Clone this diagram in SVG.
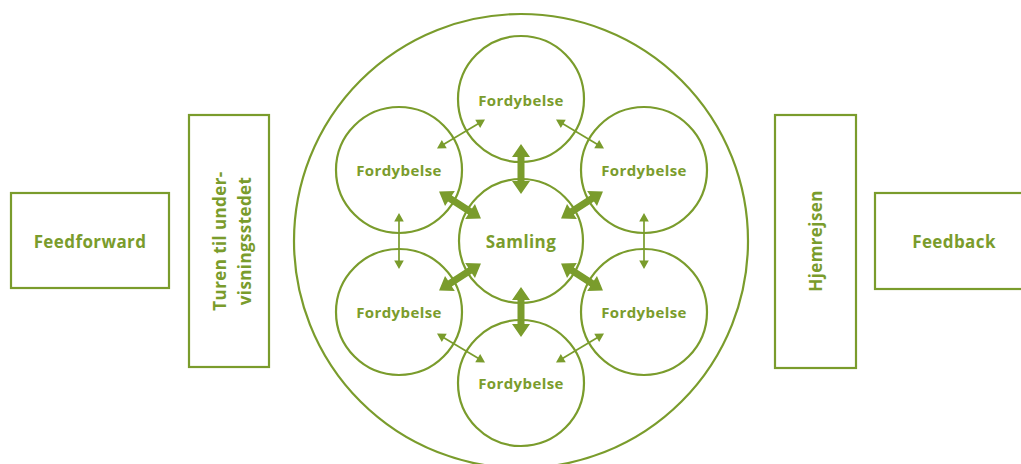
<svg xmlns="http://www.w3.org/2000/svg" width="1021" height="464" viewBox="0 0 1021 464">
<style>
.ln{fill:none;stroke:#7a9c2c;stroke-width:2.2}
.t{fill:#7a9c2c;font-family:"Open Sans",sans-serif;font-weight:700;text-anchor:middle;dominant-baseline:central;letter-spacing:0.4px}
.f{font-size:15px}
.b{font-size:17px}
.ar{fill:#7a9c2c}
.thin{stroke:#7a9c2c;stroke-width:1.7;fill:none}
</style>
<defs>
<path id="thick" d="M-25,0 L-12,-9 L-12,-3.5 L12,-3.5 L12,-9 L25,0 L12,9 L12,3.5 L-12,3.5 L-12,9 Z"/>
<g id="thin">
<line x1="-21" y1="0" x2="21" y2="0" class="thin"/>
<path d="M-28,0 L-19.5,-4.8 L-19.5,4.8 Z M28,0 L19.5,-4.8 L19.5,4.8 Z" class="ar"/>
</g>
</defs>
<rect width="1021" height="464" fill="#fff"/>
<g id="feedforward"><rect x="11" y="193" width="158" height="95" class="ln"/><text x="90" y="241" class="t b">Feedforward</text></g>
<g id="turen"><rect x="189" y="115" width="80" height="252" class="ln"/><text class="t b" transform="translate(231,241) rotate(-90)"><tspan x="0" y="-12.5">Turen til under-</tspan><tspan x="0" y="12.5">visningsstedet</tspan></text></g>
<g id="hjemrejsen"><rect x="775" y="115" width="81" height="253" class="ln"/><text class="t b" transform="translate(815,241) rotate(-90)">Hjemrejsen</text></g>
<g id="feedback"><rect x="875" y="193" width="150" height="96" class="ln"/><text x="954" y="241" class="t b">Feedback</text></g>
<g id="outer"><circle cx="521" cy="241" r="227" class="ln"/></g>
<g id="samling"><circle cx="521" cy="241" r="62" class="ln"/><text x="521" y="241" class="t b">Samling</text></g>
<g id="f-top"><circle cx="521" cy="99" r="63" class="ln"/><text x="521" y="100" class="t f">Fordybelse</text></g>
<g id="f-ul"><circle cx="399" cy="170" r="63" class="ln"/><text x="399" y="170" class="t f">Fordybelse</text></g>
<g id="f-ll"><circle cx="399" cy="312" r="63" class="ln"/><text x="399" y="312" class="t f">Fordybelse</text></g>
<g id="f-bot"><circle cx="521" cy="383" r="63" class="ln"/><text x="521" y="383" class="t f">Fordybelse</text></g>
<g id="f-ur"><circle cx="644" cy="170" r="63" class="ln"/><text x="644" y="170" class="t f">Fordybelse</text></g>
<g id="f-lr"><circle cx="644" cy="312" r="63" class="ln"/><text x="644" y="312" class="t f">Fordybelse</text></g>
<g id="connectors">
<use href="#thick" class="ar" transform="translate(521,169) rotate(90)"/>
<use href="#thick" class="ar" transform="translate(521,312) rotate(90)"/>
<use href="#thick" class="ar" transform="translate(460,205) rotate(33)"/>
<use href="#thick" class="ar" transform="translate(582,205) rotate(-33)"/>
<use href="#thick" class="ar" transform="translate(460,277) rotate(-33)"/>
<use href="#thick" class="ar" transform="translate(582,277) rotate(33)"/>
<use href="#thin" transform="translate(461,134) rotate(-31)"/>
<use href="#thin" transform="translate(580,134) rotate(31)"/>
<use href="#thin" transform="translate(399,241) rotate(90)"/>
<use href="#thin" transform="translate(644,241) rotate(90)"/>
<use href="#thin" transform="translate(461,348) rotate(31)"/>
<use href="#thin" transform="translate(580,348) rotate(-31)"/>
</g>
</svg>
